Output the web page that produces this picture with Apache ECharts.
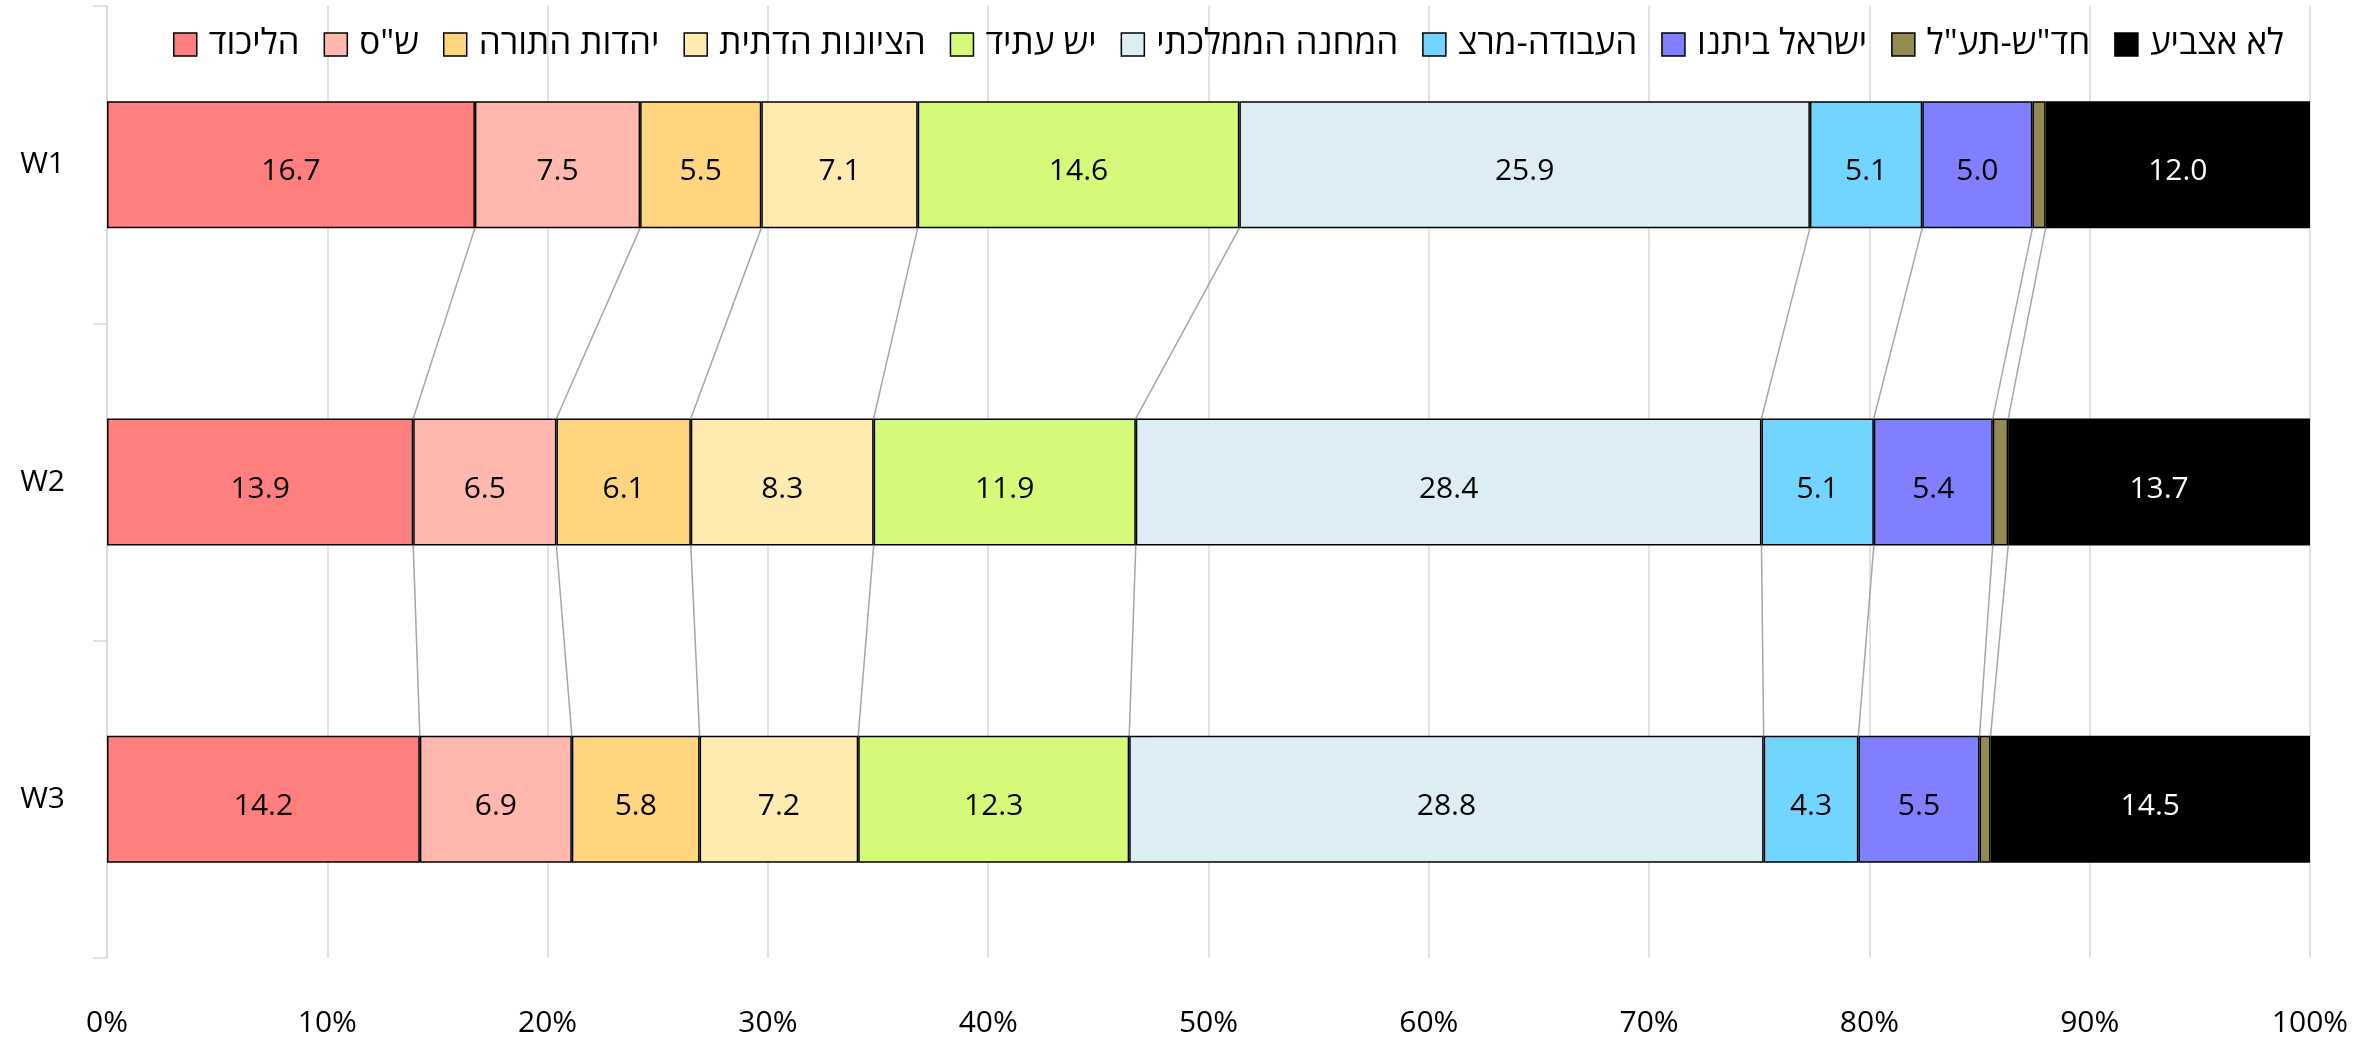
<!DOCTYPE html>
<html><head><meta charset="utf-8">
<script src="https://cdn.jsdelivr.net/npm/echarts@6/dist/echarts.min.js"></script>
<style>html,body{margin:0;padding:0;background:#fff}#c{width:2379px;height:1038px}</style>
</head><body><div id="c"></div>
<script>
const categories = ['W1', 'W2', 'W3'];
const seriesNames = ['הליכוד', 'ש"ס', 'יהדות התורה', 'הציונות הדתית', 'יש עתיד', 'המחנה הממלכתי', 'העבודה-מרצ', 'ישראל ביתנו', 'חד"ש-תע"ל', 'לא אצביע'];
const likud = [16.7, 13.9, 14.2];
const shas = [7.5, 6.5, 6.9];
const utj = [5.5, 6.1, 5.8];
const rzp = [7.1, 8.3, 7.2];
const yeshAtid = [14.6, 11.9, 12.3];
const nationalUnity = [25.9, 28.4, 28.8];
const laborMeretz = [5.1, 5.1, 4.3];
const yisraelBeitenu = [5.0, 5.4, 5.5];
const hadashTaal = [0.6, 0.7, 0.5];
const wontVote = [12.0, 13.7, 14.5];
const xTicks = [0, 10, 20, 30, 40, 50, 60, 70, 80, 90, 100];

const values = [likud, shas, utj, rzp, yeshAtid, nationalUnity, laborMeretz, yisraelBeitenu, hadashTaal, wontVote];
const colors = ['#FF7F7F', '#FFB7AE', '#FFD67F', '#FFEBAF', '#D5FA7A', '#DCEEF3', '#72D5FF', '#7F7FFF', '#948A54', '#000000'];
const FONT = '"Open Sans", "DejaVu Sans", sans-serif';
const BAR_FRAC = 0.4;

// cumulative boundaries
const cum = categories.map((_, ci) => {
  let s = 0; const out = [];
  values.forEach((arr, k) => { s += arr[ci]; if (k < values.length - 1) out.push(s); });
  return out;
});
const connData = [];
for (let ci = 0; ci < categories.length - 1; ci++) {
  for (let k = 0; k < cum[ci].length; k++) connData.push([cum[ci][k], ci, cum[ci + 1][k], ci + 1]);
}

const series = values.map((arr, k) => ({
  name: seriesNames[k],
  type: 'bar',
  stack: 'all',
  barWidth: (BAR_FRAC * 100) + '%',
  data: arr,
  itemStyle: { color: colors[k], borderColor: '#000', borderWidth: 1.5 },
  label: {
    show: k !== 8,
    position: 'inside',
    offset: [0, 7],
    formatter: p => p.value.toFixed(1),
    color: k === 9 ? '#fff' : '#000',
    fontFamily: FONT,
    fontSize: 30
  },
  emphasis: { disabled: true }
}));

series.push({
  type: 'custom',
  name: 'conn',
  silent: true,
  z: 1,
  encode: { x: [0, 2], y: [1, 3] },
  data: connData,
  renderItem: (params, api) => {
    const half = api.size([0, 1])[1] * BAR_FRAC / 2;
    const p1 = api.coord([api.value(0), api.value(1)]);
    const p2 = api.coord([api.value(2), api.value(3)]);
    return {
      type: 'line',
      shape: { x1: p1[0], y1: p1[1] + half, x2: p2[0], y2: p2[1] - half },
      style: { stroke: '#A6A6A6', lineWidth: 1.5 }
    };
  }
});

const chart = echarts.init(document.getElementById('c'), null, { renderer: 'canvas' });
chart.setOption({
  animation: false,
  backgroundColor: '#fff',
  legend: {
    data: seriesNames,
    top: 22,
    left: 168,
    itemWidth: 23,
    itemHeight: 23,
    itemGap: 24,
    icon: 'rect',
    itemStyle: { borderColor: '#000', borderWidth: 1.5 },
    textStyle: { fontFamily: FONT, fontSize: 35, color: '#000', padding: [0, 0, 0, 7] }
  },
  grid: { left: 107, right: 69, top: 6, bottom: 79, containLabel: false },
  xAxis: {
    type: 'value', min: 0, max: 100, interval: 10,
    axisLine: { show: false },
    axisTick: { show: false },
    splitLine: { show: true, lineStyle: { color: '#D9D9D9', width: 1.5 } },
    axisLabel: { formatter: v => xTicks.includes(v) ? v + '%' : '', fontFamily: FONT, fontSize: 30, color: '#000', margin: 50 }
  },
  yAxis: {
    type: 'category', data: categories, inverse: true,
    axisLine: { show: true, lineStyle: { color: '#D9D9D9', width: 1.5 } },
    axisTick: { show: true, length: 14, lineStyle: { color: '#D9D9D9', width: 1.5 } },
    axisLabel: { fontFamily: FONT, fontSize: 30, color: '#000', margin: 42 }
  },
  series: series
});
</script></body></html>
